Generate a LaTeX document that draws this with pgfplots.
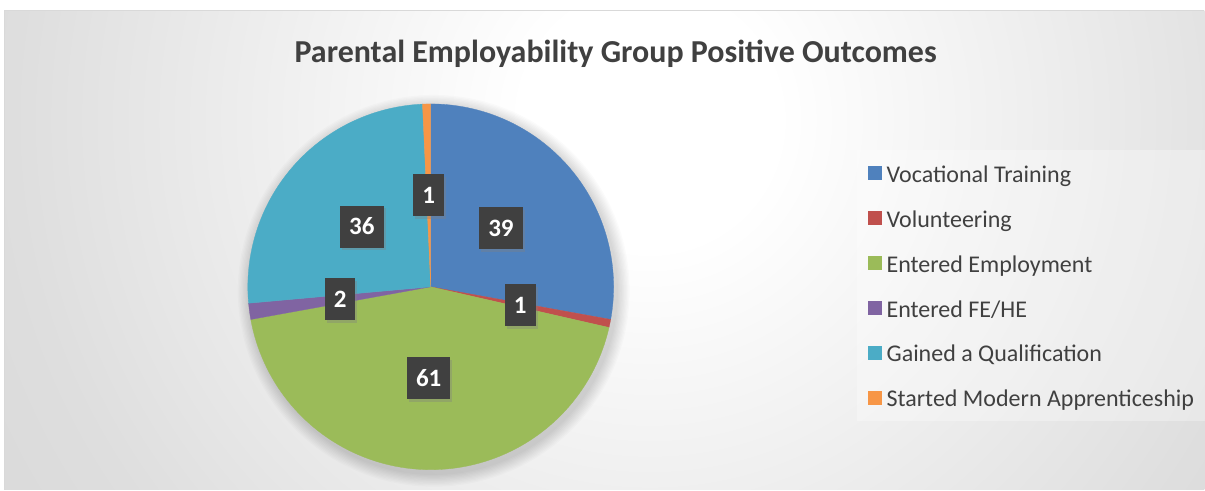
\documentclass[border=0pt]{standalone}
\usepackage{pgfplots}
\pgfplotsset{compat=1.18}
\usepackage{pgfplotstable}
\usepackage{fontspec}
\setmainfont{Carlito}
\usetikzlibrary{shadows}

\definecolor{cVT}{HTML}{4F81BD}
\definecolor{cVol}{HTML}{C0504D}
\definecolor{cEE}{HTML}{9BBB59}
\definecolor{cFE}{HTML}{8064A2}
\definecolor{cGQ}{HTML}{4BACC6}
\definecolor{cSMA}{HTML}{F79646}
\definecolor{txt}{HTML}{404040}
\definecolor{lblbg}{HTML}{404040}

\pgfplotstableread[col sep=comma]{
name,value,col
Vocational Training,39,cVT
Volunteering,1,cVol
Entered Employment,61,cEE
Entered FE/HE,2,cFE
Gained a Qualification,36,cGQ
Started Modern Apprenticeship,1,cSMA
}\piedata

\pgfdeclareradialshading{bgshade}{\pgfpoint{0bp}{0bp}}{%
  color(0bp)=(white); color(4bp)=(white); color(20bp)=(black!13);
  color(42bp)=(black!22); color(50bp)=(black!24)}

\tikzset{lbl/.style={fill=lblbg, text=white, draw=none, anchor=center,
  font=\fontsize{25}{25}\selectfont\bfseries, inner xsep=9pt, inner ysep=0pt,
  text height=16pt, text depth=0pt, minimum height=42pt,
  drop shadow={shadow xshift=2pt, shadow yshift=-2.5pt, opacity=0.35}}}

\begin{document}
\begin{tikzpicture}[x=1pt,y=1pt]
\fill[white] (0,0) rectangle (1205,490);
\begin{scope}
  \clip (5,0) rectangle (1205,479);
  \shade[shading=bgshade] (650,370) circle (800);
\end{scope}
\draw[black!15, line width=1pt] (5,0) -- (5,479) -- (1205,479);

% soft shadow under pie
\foreach \k in {1,...,10}{
  \fill[black, opacity=0.016] (434,199) circle ({183+1.3*\k});
}

\pgfplotstablegetrowsof{\piedata}
\pgfmathtruncatemacro\nrows{\pgfplotsretval-1}
\def\total{0}
\pgfplotsforeachungrouped \i in {0,...,\nrows}{%
  \pgfplotstablegetelem{\i}{value}\of\piedata
  \pgfmathsetmacro\total{\total+\pgfplotsretval}%
}

\begin{axis}[
  at={(431pt,203pt)}, anchor=center,
  width=366pt, height=366pt, scale only axis,
  xmin=-1, xmax=1, ymin=-1, ymax=1,
  hide axis, clip=false,
  legend style={
    at={(1.6639,0.8743)}, anchor=north west,
    fill=white, fill opacity=0.3, text opacity=1, draw=none,
    font=\fontsize{24}{24}\selectfont, text=txt,
    inner xsep=11pt, inner ysep=11pt,
    row sep=21pt, column sep=5pt,
    nodes={inner sep=0pt, text height=21pt, text depth=3pt},
  },
  legend cell align=left,
  legend image code/.code={\fill[#1, fill opacity=1, draw=none] (0pt,-7pt) rectangle (14pt,7pt);},
]
\def\cum{0}
\pgfplotsforeachungrouped \i in {0,...,\nrows}{%
  \pgfplotstablegetelem{\i}{value}\of\piedata \let\sv\pgfplotsretval
  \pgfplotstablegetelem{\i}{col}\of\piedata \let\scol\pgfplotsretval
  \pgfplotstablegetelem{\i}{name}\of\piedata \let\sname\pgfplotsretval
  \pgfmathsetmacro\sa{\cum/\total*360}%
  \pgfmathsetmacro\cum{\cum+\sv}%
  \pgfmathsetmacro\sb{\cum/\total*360}%
  \edef\doslice{%
    \noexpand\addplot[fill=\scol, draw=\scol, line width=0.3pt, domain=\sa:\sb, samples=90]
      ({sin(x)},{cos(x)}) -- (axis cs:0,0) -- cycle;
    \noexpand\addlegendentry{\sname}%
  }\doslice
}
\def\cum{0}
\pgfplotsforeachungrouped \i in {0,...,\nrows}{%
  \pgfplotstablegetelem{\i}{value}\of\piedata \let\sv\pgfplotsretval
  \pgfmathsetmacro\sa{\cum/\total*360}%
  \pgfmathsetmacro\cum{\cum+\sv}%
  \pgfmathsetmacro\sb{\cum/\total*360}%
  \pgfmathsetmacro\smid{(\sa+\sb)/2}%
  \pgfmathsetmacro\lx{0.5*sin(\smid)}%
  \pgfmathsetmacro\ly{0.5*cos(\smid)}%
  \edef\dolabel{%
    \noexpand\addplot[forget plot, draw=none, mark=none, nodes near coords,
      point meta=explicit symbolic, nodes near coords style={lbl}]
      coordinates {(\lx,\ly) [\sv]};%
  }\dolabel
}
\end{axis}

\node[font=\fontsize{32}{32}\selectfont\bfseries, text=txt, anchor=base, inner sep=0pt]
  at (616,427) {Parental Employability Group Positive Outcomes};
\end{tikzpicture}
\end{document}
